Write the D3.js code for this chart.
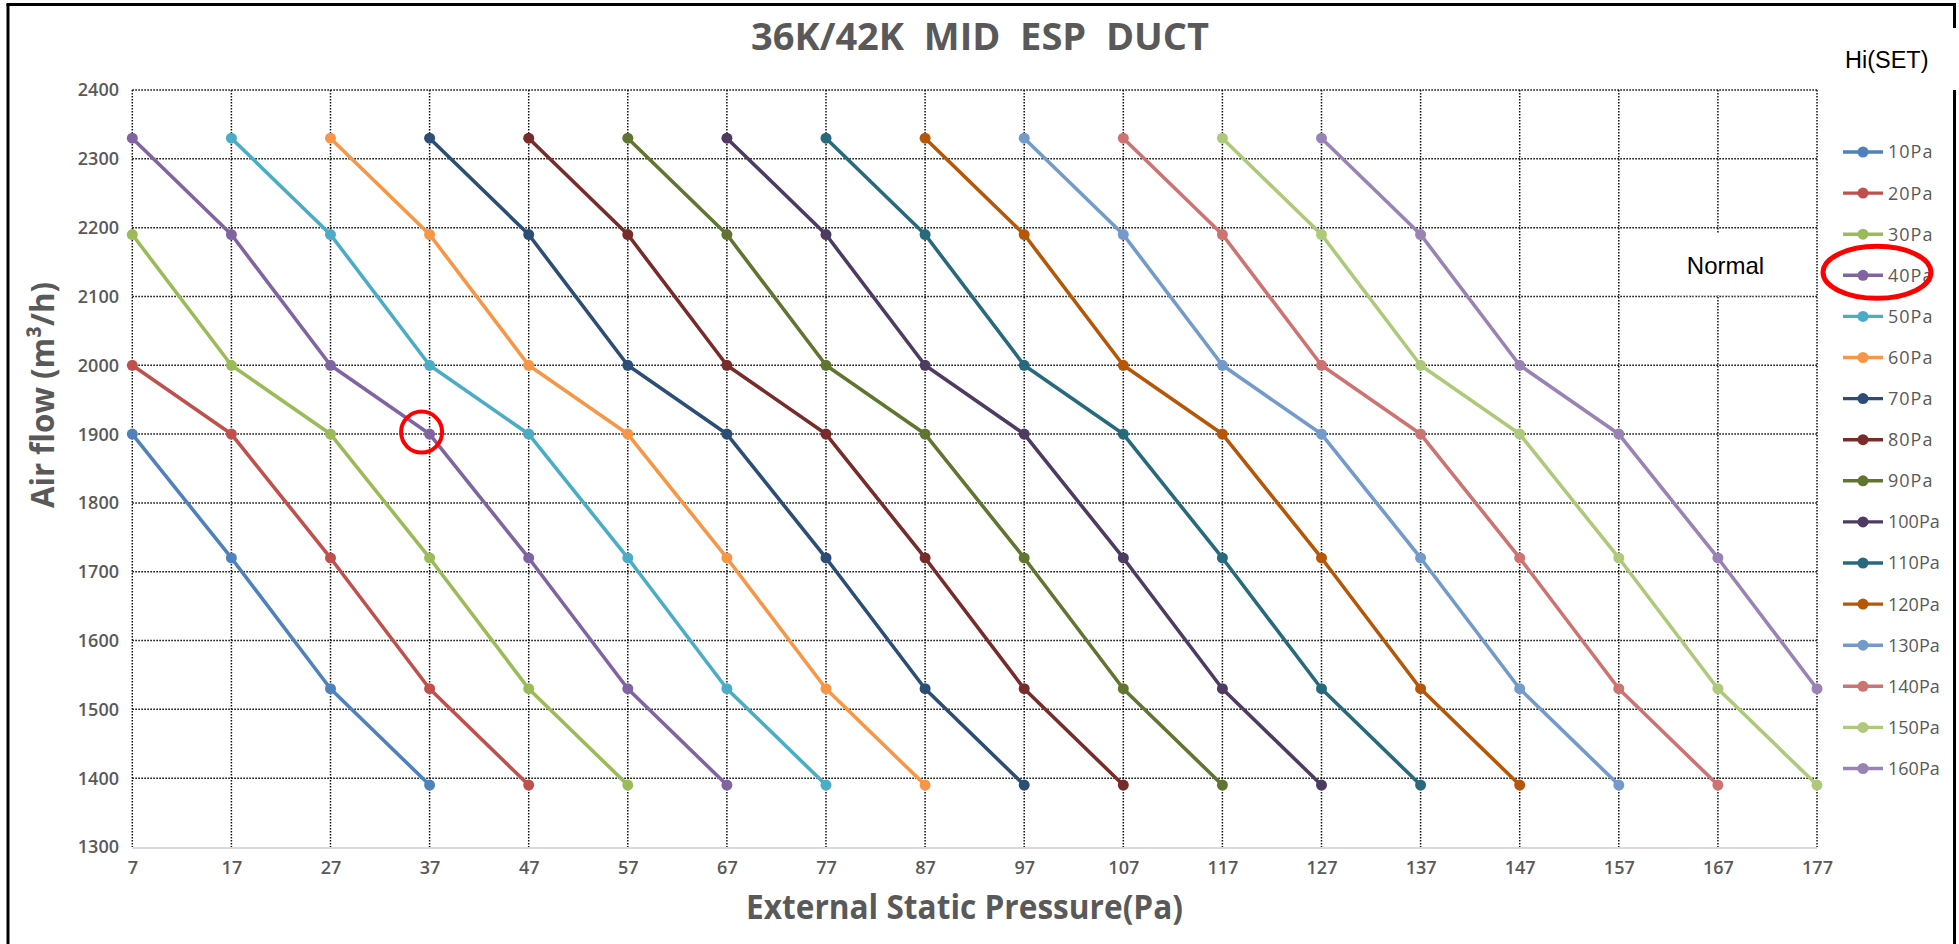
<!DOCTYPE html>
<html>
<head>
<meta charset="utf-8">
<script src="https://cdn.jsdelivr.net/npm/d3@7/dist/d3.min.js"></script>
<style>
  html, body { margin: 0; padding: 0; background: #fff; }
  svg { display: block; }
</style>
</head>
<body>
<svg id="chart" width="1959" height="944"></svg>
<script>
// ---- data ----
const chartTitle = "36K/42K  MID  ESP  DUCT";
const xTitle = "External Static Pressure(Pa)";
const yTitle = "Air flow (m³/h)";
const xTicks = [7, 17, 27, 37, 47, 57, 67, 77, 87, 97, 107, 117, 127, 137, 147, 157, 167, 177];
const yTicks = [1300, 1400, 1500, 1600, 1700, 1800, 1900, 2000, 2100, 2200, 2300, 2400];
const seriesNames = ["10Pa", "20Pa", "30Pa", "40Pa", "50Pa", "60Pa", "70Pa", "80Pa",
                     "90Pa", "100Pa", "110Pa", "120Pa", "130Pa", "140Pa", "150Pa", "160Pa"];
const seriesColors = ["#4F81BD", "#C0504D", "#9BBB59", "#8064A2", "#4BACC6", "#F79646",
                      "#2C4D75", "#772C2A", "#5F7530", "#4D3B62", "#276A7C", "#B65708",
                      "#729ACA", "#CD7371", "#AFC97A", "#9983B5"];
const _ = null;
// airflow (m3/h) per x tick (7..177); null = no point
const pa10  = [1900, 1720, 1530, 1390, _, _, _, _, _, _, _, _, _, _, _, _, _, _];
const pa20  = [2000, 1900, 1720, 1530, 1390, _, _, _, _, _, _, _, _, _, _, _, _, _];
const pa30  = [2190, 2000, 1900, 1720, 1530, 1390, _, _, _, _, _, _, _, _, _, _, _, _];
const pa40  = [2330, 2190, 2000, 1900, 1720, 1530, 1390, _, _, _, _, _, _, _, _, _, _, _];
const pa50  = [_, 2330, 2190, 2000, 1900, 1720, 1530, 1390, _, _, _, _, _, _, _, _, _, _];
const pa60  = [_, _, 2330, 2190, 2000, 1900, 1720, 1530, 1390, _, _, _, _, _, _, _, _, _];
const pa70  = [_, _, _, 2330, 2190, 2000, 1900, 1720, 1530, 1390, _, _, _, _, _, _, _, _];
const pa80  = [_, _, _, _, 2330, 2190, 2000, 1900, 1720, 1530, 1390, _, _, _, _, _, _, _];
const pa90  = [_, _, _, _, _, 2330, 2190, 2000, 1900, 1720, 1530, 1390, _, _, _, _, _, _];
const pa100 = [_, _, _, _, _, _, 2330, 2190, 2000, 1900, 1720, 1530, 1390, _, _, _, _, _];
const pa110 = [_, _, _, _, _, _, _, 2330, 2190, 2000, 1900, 1720, 1530, 1390, _, _, _, _];
const pa120 = [_, _, _, _, _, _, _, _, 2330, 2190, 2000, 1900, 1720, 1530, 1390, _, _, _];
const pa130 = [_, _, _, _, _, _, _, _, _, 2330, 2190, 2000, 1900, 1720, 1530, 1390, _, _];
const pa140 = [_, _, _, _, _, _, _, _, _, _, 2330, 2190, 2000, 1900, 1720, 1530, 1390, _];
const pa150 = [_, _, _, _, _, _, _, _, _, _, _, 2330, 2190, 2000, 1900, 1720, 1530, 1390];
const pa160 = [_, _, _, _, _, _, _, _, _, _, _, _, 2330, 2190, 2000, 1900, 1720, 1530];
const seriesValues = [pa10, pa20, pa30, pa40, pa50, pa60, pa70, pa80,
                      pa90, pa100, pa110, pa120, pa130, pa140, pa150, pa160];
const highlightSeries = "40Pa";
const highlightPoint = [37, 1900];
const noteNormal = "Normal";
const noteSet = "Hi(SET)";

// ---- drawing ----
const svg = d3.select("#chart");
const W = 1959, H = 944;
const grayText = "#595959";
const tickFont = "'Open Sans', 'Noto Sans', sans-serif";

const x = d3.scaleLinear().domain([7, 177]).range([132.3, 1817]);
const y = d3.scaleLinear().domain([1300, 2400]).range([847, 90]);

svg.append("rect").attr("width", W).attr("height", H).attr("fill", "#fff");

// outer frame
const frame = svg.append("g").attr("stroke", "#000").attr("stroke-width", 3).attr("fill", "none");
frame.append("line").attr("x1", 8).attr("y1", 4).attr("x2", 8).attr("y2", H);
frame.append("line").attr("x1", 6.5).attr("y1", 4.5).attr("x2", 1955.5).attr("y2", 4.5);
frame.append("line").attr("x1", 1954.5).attr("y1", 3).attr("x2", 1954.5).attr("y2", 28);
frame.append("line").attr("x1", 1954.5).attr("y1", 90).attr("x2", 1954.5).attr("y2", H);

// grid
const grid = svg.append("g").attr("stroke", "#111").attr("stroke-width", 1.5)
  .attr("stroke-dasharray", "1.6 1.4");
grid.selectAll("line.h").data(yTicks.filter(d => d > 1300)).join("line")
  .attr("x1", x(7)).attr("x2", x(177))
  .attr("y1", d => y(d)).attr("y2", d => y(d));
grid.selectAll("line.v").data(xTicks).join("line")
  .attr("x1", d => x(d)).attr("x2", d => x(d))
  .attr("y1", y(2400)).attr("y2", y(1300));

// bottom axis line
svg.append("line").attr("x1", x(7)).attr("x2", x(177))
  .attr("y1", y(1300) + 1).attr("y2", y(1300) + 1)
  .attr("stroke", "#d9d9d9").attr("stroke-width", 2);

// axes tick labels via d3 axes
const xAxis = d3.axisBottom(x).tickValues(xTicks).tickSize(0).tickPadding(0).tickFormat(d3.format("d"));
const gx = svg.append("g").attr("transform", `translate(0, ${y(1300)})`).call(xAxis);
gx.select(".domain").remove();
gx.selectAll("text").attr("font-family", tickFont).attr("font-size", 18).attr("font-weight", 600)
  .attr("fill", grayText).attr("dy", null).attr("y", 27);

const yAxis = d3.axisLeft(y).tickValues(yTicks).tickSize(0).tickPadding(0).tickFormat(d3.format("d"));
const gy = svg.append("g").attr("transform", `translate(${119}, 0)`).call(yAxis);
gy.select(".domain").remove();
gy.selectAll("text").attr("font-family", tickFont).attr("font-size", 18).attr("font-weight", 600)
  .attr("fill", grayText).attr("x", 0).attr("dy", "0.33em");

// series
const series = seriesNames.map((name, i) => ({
  name, color: seriesColors[i],
  points: xTicks.map((xv, j) => ({ x: xv, y: seriesValues[i][j] })).filter(p => p.y != null)
}));
const line = d3.line().x(d => x(d.x)).y(d => y(d.y));
const gs = svg.append("g");
series.forEach(s => {
  const g = gs.append("g");
  g.append("path").attr("d", line(s.points)).attr("fill", "none")
    .attr("stroke", s.color).attr("stroke-width", 3.6).attr("stroke-linejoin", "round");
  g.selectAll("circle").data(s.points).join("circle")
    .attr("cx", d => x(d.x)).attr("cy", d => y(d.y)).attr("r", 5.5).attr("fill", s.color);
});

// "Normal" label box
const nb = svg.append("g");
nb.append("rect").attr("x", 1665).attr("y", 233).attr("width", 137).attr("height", 62).attr("fill", "#fff");
nb.append("line").attr("x1", 1665).attr("x2", 1802).attr("y1", 296).attr("y2", 296)
  .attr("stroke", "#bbb").attr("stroke-width", 1).attr("stroke-dasharray", "1 1");
nb.append("text").attr("x", 1725.5).attr("y", 274).attr("text-anchor", "middle")
  .attr("font-family", "'Liberation Sans', Arial, sans-serif").attr("font-size", 24)
  .attr("fill", "#000").text(noteNormal);

// Hi(SET)
svg.append("text").attr("x", 1845).attr("y", 68)
  .attr("font-family", "'Liberation Sans', Arial, sans-serif").attr("font-size", 23.5)
  .attr("fill", "#000").text(noteSet);

// legend
const lg = svg.append("g");
const legY0 = 152, legStep = 41.1;
series.forEach((s, i) => {
  const yy = legY0 + i * legStep;
  const g = lg.append("g");
  g.append("line").attr("x1", 1843).attr("x2", 1883).attr("y1", yy).attr("y2", yy)
    .attr("stroke", s.color).attr("stroke-width", 3.4);
  g.append("circle").attr("cx", 1863).attr("cy", yy).attr("r", 5.5).attr("fill", s.color);
  g.append("text").attr("x", 1888).attr("y", yy).attr("dy", "0.36em")
    .attr("font-family", tickFont).attr("font-size", 18).attr("font-weight", 500)
    .attr("letter-spacing", s.name.length <= 4 ? 1 : 0)
    .attr("fill", grayText).text(s.name);
});

// titles
svg.append("text").attr("x", 980).attr("y", 50).attr("text-anchor", "middle")
  .attr("font-family", tickFont).attr("font-weight", 700).attr("font-size", 37)
  .attr("fill", grayText).attr("textLength", 458).attr("lengthAdjust", "spacingAndGlyphs")
  .attr("xml:space", "preserve").style("white-space", "pre").text(chartTitle);

svg.append("text").attr("x", 964.5).attr("y", 919).attr("text-anchor", "middle")
  .attr("font-family", tickFont).attr("font-weight", 700).attr("font-size", 34)
  .attr("fill", grayText).attr("textLength", 437).attr("lengthAdjust", "spacingAndGlyphs")
  .text(xTitle);

svg.append("text").attr("transform", "translate(54, 395) rotate(-90)").attr("text-anchor", "middle")
  .attr("font-family", tickFont).attr("font-weight", 700).attr("font-size", 33)
  .attr("fill", grayText).attr("textLength", 226).attr("lengthAdjust", "spacingAndGlyphs")
  .text(yTitle);

// red highlight marks
const hlIndex = seriesNames.indexOf(highlightSeries);
svg.append("ellipse").attr("cx", 1877).attr("cy", legY0 + hlIndex * legStep - 3)
  .attr("rx", 54).attr("ry", 26).attr("fill", "none").attr("stroke", "#ff0000").attr("stroke-width", 5);
svg.append("circle").attr("cx", x(highlightPoint[0]) - 8).attr("cy", y(highlightPoint[1]) - 2)
  .attr("r", 20.5).attr("fill", "none").attr("stroke", "#ff0000").attr("stroke-width", 4);
</script>
</body>
</html>
